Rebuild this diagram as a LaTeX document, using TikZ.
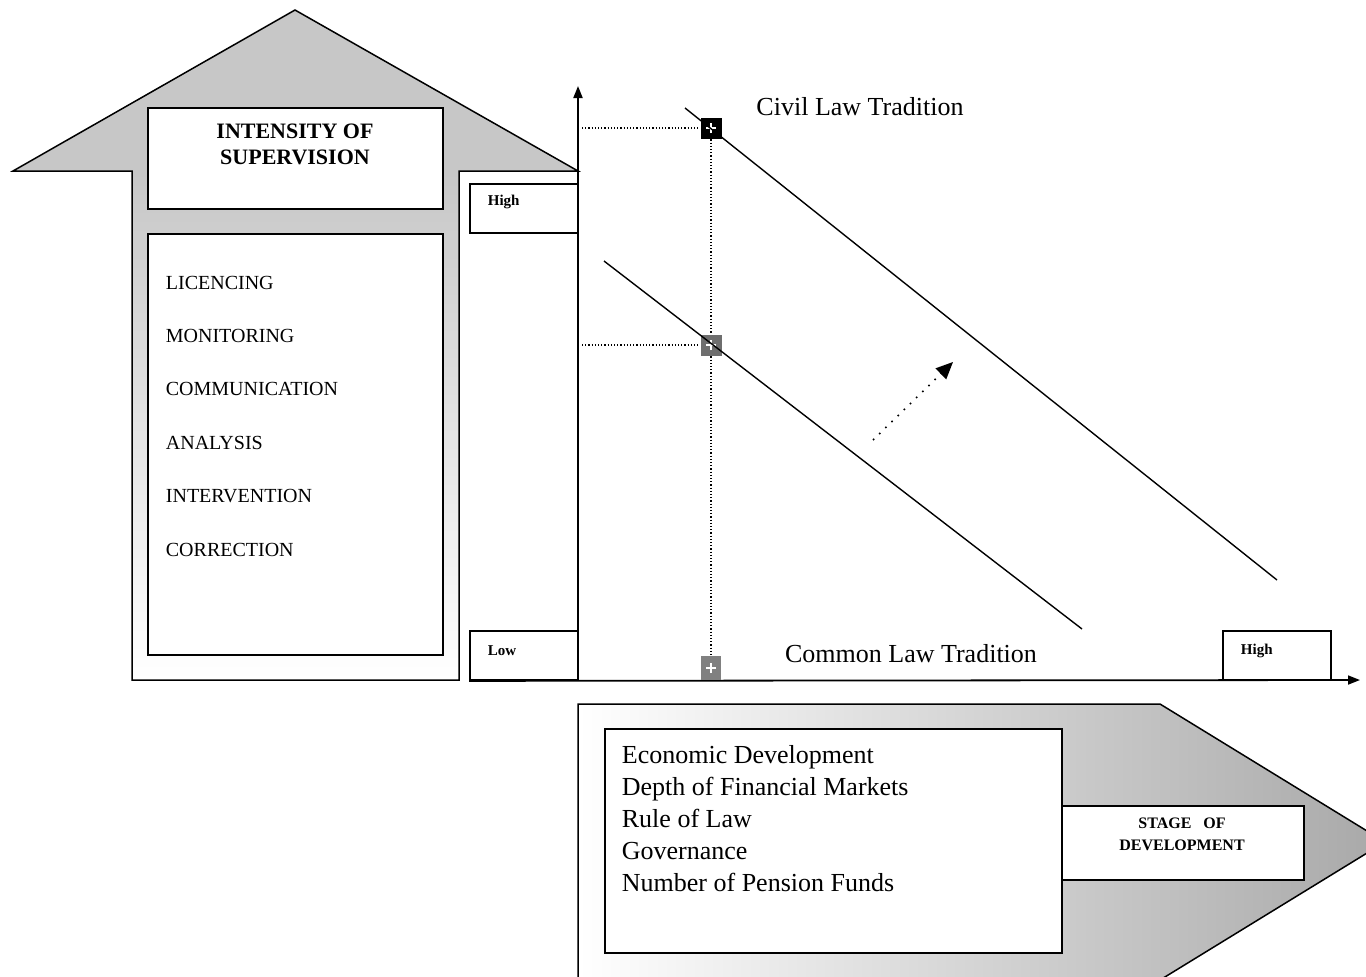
\documentclass[tikz,border=0pt]{standalone}
\usepackage{fontspec}
\setmainfont{Liberation Serif}
\usetikzlibrary{arrows.meta,positioning}

\begin{document}
\begin{tikzpicture}[x=1pt,y=-1pt,line width=1.8pt,
        box/.style={draw,fill=white,inner sep=0pt},
        item/.style={anchor=west,inner sep=0pt,align=left,font=\fontsize{20}{53.4}\selectfont},
        tag/.style={anchor=west,inner sep=0pt,font=\fontsize{15}{15}\selectfont\bfseries},
        law/.style={inner sep=0pt,font=\fontsize{26}{26}\selectfont},
        marker/.style={rectangle,inner sep=0pt,minimum size=21pt,
            path picture={\draw[white,line width=1.4pt]
                ([xshift=-5pt]path picture bounding box.center) -- ([xshift=5pt]path picture bounding box.center)
                ([yshift=-5pt]path picture bounding box.center) -- ([yshift=5pt]path picture bounding box.center);}},
        guide/.style={line width=1.2pt,dash pattern=on 1.2pt off 2pt}]
    \useasboundingbox (0,0) rectangle (1366,977);

    \fill[black!22] (13,171) -- (295,10) -- (578,171) -- cycle;
    \shade[top color=black!22,bottom color=white] (132,171) rectangle (459,680);
    \draw[line width=1.5pt] (132,680) -- (132,171) -- (13,171) -- (295,10) -- (578,171) -- (459,171) -- (459,680) -- cycle;

    \begin{scope}
        \clip (0,0) rectangle (1366,977);
        \shade[left color=white,right color=black!34] (578,704) -- (1160,704) -- (1385,842) -- (1160,980) -- (578,980) -- cycle;
        \draw[line width=1.5pt] (578,990) -- (578,704) -- (1160,704) -- (1385,842) -- (1160,980);
    \end{scope}

    \node[box,minimum width=295pt,minimum height=101pt] (ttl) at (295.5,158.5) {};
    \node[inner sep=0pt,align=center,font=\fontsize{22}{26}\selectfont\bfseries] at (295,144) {INTENSITY OF\\SUPERVISION};
    \node[box,minimum width=295pt,minimum height=421pt] (lst) at (295.5,444.5) {};
    \node[item] at (165,416) {LICENCING\\MONITORING\\COMMUNICATION\\ANALYSIS\\INTERVENTION\\CORRECTION};

    \node[box,minimum width=108pt,minimum height=49pt] (hiy) at (524,208.5) {};
    \node[tag] at (487,202) {High};
    \node[box,minimum width=108pt,minimum height=49pt] (loy) at (524,655.5) {};
    \node[tag] at (487,651) {Low};
    \node[box,minimum width=108pt,minimum height=49pt] (hix) at (1277,655.5) {};
    \node[tag] at (1240,651) {High};

    \node[box,minimum width=457pt,minimum height=224pt] (fct) at (833.5,841) {};
    \node[anchor=west,inner sep=0pt,align=left,font=\fontsize{26}{32}\selectfont] at (621,819)
        {Economic Development\\Depth of Financial Markets\\Rule of Law\\Governance\\Number of Pension Funds};
    \node[box,minimum width=242pt,minimum height=74pt] (stg) at (1183,843) {};
    \node[inner sep=0pt,align=center,font=\fontsize{16}{22}\selectfont\bfseries] at (1182,834) {STAGE\ \ \ OF\\DEVELOPMENT};

    \coordinate (o) at (578,680);
    \coordinate (ytop) at (578,86);
    \coordinate (xend) at (1360,680);
    \draw[-{Triangle[length=12pt,width=9pt]}] (o) -- (ytop);
    \draw[-{Triangle[length=12pt,width=9pt]}] (loy.south west) -- (xend);

    \node[marker,fill=black] (m1) at (711,128) {};
    \node[marker,fill=black!57] (m2) at (711,345) {};
    \node[marker,fill=black!50,minimum width=20pt,minimum height=24pt] (m3) at (711,668) {};
    \coordinate (y1) at (582,128);
    \coordinate (y2) at (582,345);
    \draw[guide] (y1) -- (m1.west);
    \draw[guide] (y2) -- (m2.west);
    \draw[guide] (m1.south) -- (m2.north);
    \draw[guide] (m2.south) -- (m3.north);

    \coordinate (c1) at (685,108);
    \coordinate (c2) at (1277,580);
    \coordinate (k1) at (604,261);
    \coordinate (k2) at (1082,629);
    \draw[line width=1.4pt] (c1) -- (c2);
    \draw[line width=1.4pt] (k1) -- (k2);
    \node[law] (civ) at (860,107) {Civil Law Tradition};
    \node[law] (com) at (911,654) {Common Law Tradition};

    \coordinate (s1) at (873,440);
    \coordinate (s2) at (953,362);
    \draw[line width=1.6pt,dash pattern=on 1.6pt off 7pt,-{Triangle[length=17pt,width=15pt]}] (s1) -- (s2);
\end{tikzpicture}
\end{document}
